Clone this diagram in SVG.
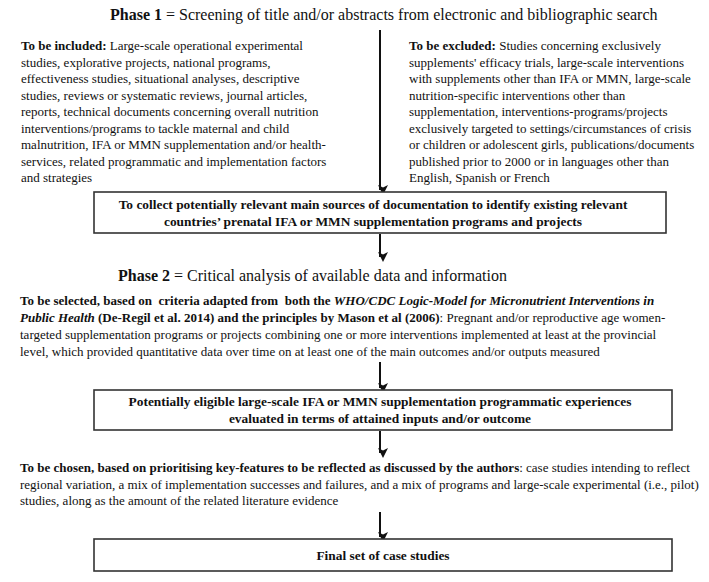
<svg xmlns="http://www.w3.org/2000/svg" width="709" height="582" viewBox="0 0 709 582">
<style>
text{font-family:"Liberation Serif","Times New Roman",serif;fill:#111}
.t{font-size:16px}
.b{font-size:13px}
.bx{font-size:13.4px;font-weight:bold}
.box{fill:#fff;stroke:#333;stroke-width:1.6}
.arr{stroke:#111;stroke-width:2;fill:none;marker-end:url(#ah)}
</style>
<defs>
<marker id="ah" markerWidth="10" markerHeight="10" refX="5" refY="8" orient="auto-start-reverse" markerUnits="userSpaceOnUse" viewBox="0 0 10 10">
<path d="M0,0 L5,2.5 L10,0 L5,10 Z" fill="#111" transform="rotate(-90 5 5)"/>
</marker>
</defs>
<g id="connectors">
<line class="arr" x1="380" y1="30" x2="380" y2="190"/>
<line class="arr" x1="380" y1="234" x2="380" y2="257"/>
<line class="arr" x1="380" y1="362" x2="380" y2="388"/>
<line class="arr" x1="380" y1="431" x2="380" y2="453"/>
<line class="arr" x1="380" y1="512" x2="380" y2="537"/>
</g>
<g id="phase1-title">
<text class="t" x="110" y="20"><tspan font-weight="bold">Phase 1</tspan> = Screening of title and/or abstracts from electronic and bibliographic search</text>
</g>
<g id="included">
<text class="b" x="21" y="50"><tspan font-weight="bold">To be included:</tspan> Large-scale operational experimental</text>
<text class="b" x="21" y="66.5">studies, explorative projects, national programs,</text>
<text class="b" x="21" y="83">effectiveness studies, situational analyses, descriptive</text>
<text class="b" x="21" y="99.5">studies, reviews or systematic reviews, journal articles,</text>
<text class="b" x="21" y="116">reports, technical documents concerning overall nutrition</text>
<text class="b" x="21" y="132.5">interventions/programs to tackle maternal and child</text>
<text class="b" x="21" y="149">malnutrition, IFA or MMN supplementation and/or health-</text>
<text class="b" x="21" y="165.5">services, related programmatic and implementation factors</text>
<text class="b" x="21" y="182">and strategies</text>
</g>
<g id="excluded">
<text class="b" x="409" y="50"><tspan font-weight="bold">To be excluded:</tspan> Studies concerning exclusively</text>
<text class="b" x="409" y="66.5">supplements' efficacy trials, large-scale interventions</text>
<text class="b" x="409" y="83">with supplements other than IFA or MMN, large-scale</text>
<text class="b" x="409" y="99.5">nutrition-specific interventions other than</text>
<text class="b" x="409" y="116">supplementation, interventions-programs/projects</text>
<text class="b" x="409" y="132.5">exclusively targeted to settings/circumstances of crisis</text>
<text class="b" x="409" y="149">or children or adolescent girls, publications/documents</text>
<text class="b" x="409" y="165.5">published prior to 2000 or in languages other than</text>
<text class="b" x="409" y="182">English, Spanish or French</text>
</g>
<g id="collect-box">
<rect class="box" x="94" y="192" width="572" height="41"/>
<text class="bx" x="373" y="209" text-anchor="middle">To collect potentially relevant main sources of documentation to identify existing relevant</text>
<text class="bx" x="373" y="226" text-anchor="middle">countries’ prenatal IFA or MMN supplementation programs and projects</text>
</g>
<g id="phase2-title">
<text class="t" x="118" y="281"><tspan font-weight="bold">Phase 2</tspan> = Critical analysis of available data and information</text>
</g>
<g id="selected">
<text class="b" x="20" y="305" xml:space="preserve"><tspan font-weight="bold">To be selected, based on  criteria adapted from  both the </tspan><tspan font-weight="bold" font-style="italic">WHO/CDC Logic-Model for Micronutrient Interventions in</tspan></text>
<text class="b" x="20" y="322"><tspan font-weight="bold" font-style="italic">Public Health</tspan><tspan font-weight="bold"> (De-Regil et al. 2014) and the principles by Mason et al (2006)</tspan>: Pregnant and/or reproductive age women-</text>
<text class="b" x="20" y="339">targeted supplementation programs or projects combining one or more interventions implemented at least at the provincial</text>
<text class="b" x="20" y="356">level, which provided quantitative data over time on at least one of the main outcomes and/or outputs measured</text>
</g>
<g id="eligible-box">
<rect class="box" x="94" y="390" width="578" height="40"/>
<text class="bx" x="380" y="406" text-anchor="middle">Potentially eligible large-scale IFA or MMN supplementation programmatic experiences</text>
<text class="bx" x="380" y="423" text-anchor="middle">evaluated in terms of attained inputs and/or outcome</text>
</g>
<g id="chosen">
<text class="b" x="20" y="472"><tspan font-weight="bold">To be chosen, based on prioritising key-features to be reflected as discussed by the authors</tspan>: case studies intending to reflect</text>
<text class="b" x="20" y="488.5">regional variation, a mix of implementation successes and failures, and a mix of programs and large-scale experimental (i.e., pilot)</text>
<text class="b" x="20" y="505">studies, along as the amount of the related literature evidence</text>
</g>
<g id="final-box">
<rect class="box" x="94" y="539" width="578" height="32"/>
<text class="bx" x="383" y="559.5" text-anchor="middle">Final set of case studies</text>
</g>
</svg>
